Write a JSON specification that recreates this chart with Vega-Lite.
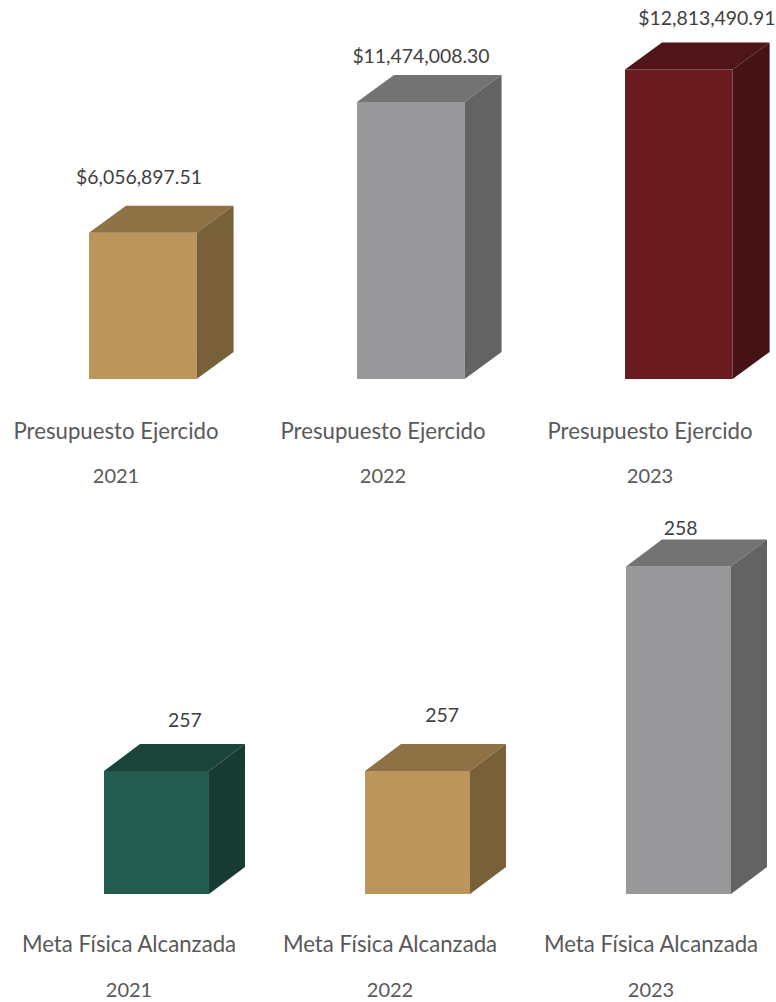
{
"$schema":"https://vega.github.io/schema/vega-lite/v6.json",
"padding":0,
"background":"white",
"spacing":131,
"bounds":"flush",
"config":{"view":{"stroke":null},"text":{"font":"Lato","fontSize":19.4,"color":"#404040"},"concat":{"spacing":131}},
"resolve":{"scale":{"color":"independent","x":"independent","y":"independent"}},
"vconcat":[
{"width":776,"height":379,
"data":{"values":[
{"metric":"Presupuesto Ejercido","year":2021,"value":6056897.51},
{"metric":"Presupuesto Ejercido","year":2022,"value":11474008.30},
{"metric":"Presupuesto Ejercido","year":2023,"value":12813490.91}]},
"transform":[
{"calculate":"datum.year-0.2015","as":"left"},
{"calculate":"datum.year+0.2","as":"right"},
{"calculate":"0","as":"base"},
{"calculate":"datum.year-0.0037*(datum.year-2021)","as":"catX"}],
"layer":[
{"transform":[{"calculate":"datum.year+'-front'","as":"key"}],
"mark":{"type":"rect"},
"encoding":{"x":{"field":"left","type":"quantitative","axis":null,"scale":{"domain":[2020.4664,2023.3619],"nice":false,"zero":false}},"x2":{"field":"right"},
"y":{"field":"value","type":"quantitative","axis":null,"scale":{"domain":[0,15693582],"nice":false}},"y2":{"field":"base"},
"color":{"field":"key","type":"nominal","legend":null,"scale":{"domain":["2021-front","2021-top","2021-side","2022-front","2022-top","2022-side","2023-front","2023-top","2023-side"],"range":["#BC955C","#8E7145","#786038","#98989A","#737373","#636363","#6A1C21","#501519","#451215"]}}}},
{"transform":[{"calculate":"datum.year+'-top'","as":"key"},{"calculate":"[0,1]","as":"t"},{"flatten":["t"]},
{"calculate":"datum.left+datum.t*0.138","as":"xa"},{"calculate":"datum.right+datum.t*0.138","as":"xb"},{"calculate":"datum.value+datum.t*1118012","as":"ya"}],
"mark":{"type":"area","orient":"horizontal"},
"encoding":{"y":{"field":"ya","type":"quantitative"},"x":{"field":"xa","type":"quantitative"},"x2":{"field":"xb"},"color":{"field":"key","type":"nominal"}}},
{"transform":[{"calculate":"datum.year+'-side'","as":"key"},{"calculate":"[0,1]","as":"t"},{"flatten":["t"]},
{"calculate":"datum.right+datum.t*0.138","as":"xa"},{"calculate":"datum.t*1118012","as":"ya"},{"calculate":"datum.value+datum.t*1118012","as":"yb"}],
"mark":{"type":"area","orient":"vertical"},
"encoding":{"x":{"field":"xa","type":"quantitative"},"y":{"field":"ya","type":"quantitative"},"y2":{"field":"yb"},"color":{"field":"key","type":"nominal"}}},
{"transform":[
{"calculate":"datum.year==2021?-0.015:datum.year==2022?0.037:0.104","as":"shift"},
{"calculate":"datum.year+datum.shift","as":"lx"},
{"calculate":"datum.value+(datum.year==2021?55:datum.year==2022?45:51)/24.15e-6","as":"ly"}],
"mark":{"type":"text","baseline":"middle","align":"center"},
"encoding":{"x":{"field":"lx","type":"quantitative"},"y":{"field":"ly","type":"quantitative"},"text":{"field":"value","type":"quantitative","format":"$,.2f"}}},
{"mark":{"type":"text","baseline":"middle","align":"center","dx":-27,"dy":53,"fontSize":22.2,"color":"#595959"},
"encoding":{"x":{"field":"catX","type":"quantitative"},"y":{"field":"base","type":"quantitative"},"text":{"field":"metric"}}},
{"mark":{"type":"text","baseline":"middle","align":"center","dx":-27,"dy":98,"fontSize":20,"color":"#595959"},
"encoding":{"x":{"field":"catX","type":"quantitative"},"y":{"field":"base","type":"quantitative"},"text":{"field":"year","type":"nominal"}}}
]},
{"width":776,"height":384,
"data":{"values":[
{"metric":"Meta Física Alcanzada","year":2021,"value":257},
{"metric":"Meta Física Alcanzada","year":2022,"value":257},
{"metric":"Meta Física Alcanzada","year":2023,"value":258}]},
"transform":[
{"calculate":"datum.year-0.2011","as":"left"},
{"calculate":"datum.year+0.2011","as":"right"},
{"calculate":"256.3985","as":"base"}],
"layer":[
{"transform":[{"calculate":"datum.year+'-front'","as":"key"}],
"mark":{"type":"rect"},
"encoding":{"x":{"field":"left","type":"quantitative","axis":null,"scale":{"domain":[2020.4004,2023.3736],"nice":false,"zero":false}},"x2":{"field":"right"},
"y":{"field":"value","type":"quantitative","axis":null,"scale":{"domain":[256.3985,258.2763],"nice":false,"zero":false}},"y2":{"field":"base"},
"color":{"field":"key","type":"nominal","legend":null,"scale":{"domain":["2021-front","2021-top","2021-side","2022-front","2022-top","2022-side","2023-front","2023-top","2023-side"],"range":["#235B4E","#1A4439","#173A33","#BC955C","#8E7145","#786038","#98989A","#737373","#636363"]}}}},
{"transform":[{"calculate":"datum.year+'-top'","as":"key"},{"calculate":"[0,1]","as":"t"},{"flatten":["t"]},
{"calculate":"datum.left+datum.t*0.1379","as":"xa"},{"calculate":"datum.right+datum.t*0.1379","as":"xb"},{"calculate":"datum.value+datum.t*0.132","as":"ya"}],
"mark":{"type":"area","orient":"horizontal"},
"encoding":{"y":{"field":"ya","type":"quantitative"},"x":{"field":"xa","type":"quantitative"},"x2":{"field":"xb"},"color":{"field":"key","type":"nominal"}}},
{"transform":[{"calculate":"datum.year+'-side'","as":"key"},{"calculate":"[0,1]","as":"t"},{"flatten":["t"]},
{"calculate":"datum.right+datum.t*0.1379","as":"xa"},{"calculate":"datum.base+datum.t*0.132","as":"ya"},{"calculate":"datum.value+datum.t*0.132","as":"yb"}],
"mark":{"type":"area","orient":"vertical"},
"encoding":{"x":{"field":"xa","type":"quantitative"},"y":{"field":"ya","type":"quantitative"},"y2":{"field":"yb"},"color":{"field":"key","type":"nominal"}}},
{"transform":[
{"calculate":"datum.year==2021?0.109:datum.year==2022?0.094:0.008","as":"shift"},
{"calculate":"datum.year+datum.shift","as":"lx"},
{"calculate":"datum.value+(datum.year==2021?50:datum.year==2022?55:38)/204.5","as":"ly"}],
"mark":{"type":"text","baseline":"middle","align":"center"},
"encoding":{"x":{"field":"lx","type":"quantitative"},"y":{"field":"ly","type":"quantitative"},"text":{"field":"value","type":"quantitative","format":"d"}}},
{"mark":{"type":"text","baseline":"middle","align":"center","dx":-27.5,"dy":51,"fontSize":22.2,"color":"#595959"},
"encoding":{"x":{"field":"year","type":"quantitative"},"y":{"field":"base","type":"quantitative"},"text":{"field":"metric"}}},
{"mark":{"type":"text","baseline":"middle","align":"center","dx":-27.5,"dy":97,"fontSize":20,"color":"#595959"},
"encoding":{"x":{"field":"year","type":"quantitative"},"y":{"field":"base","type":"quantitative"},"text":{"field":"year","type":"nominal"}}}
]}
]
}
